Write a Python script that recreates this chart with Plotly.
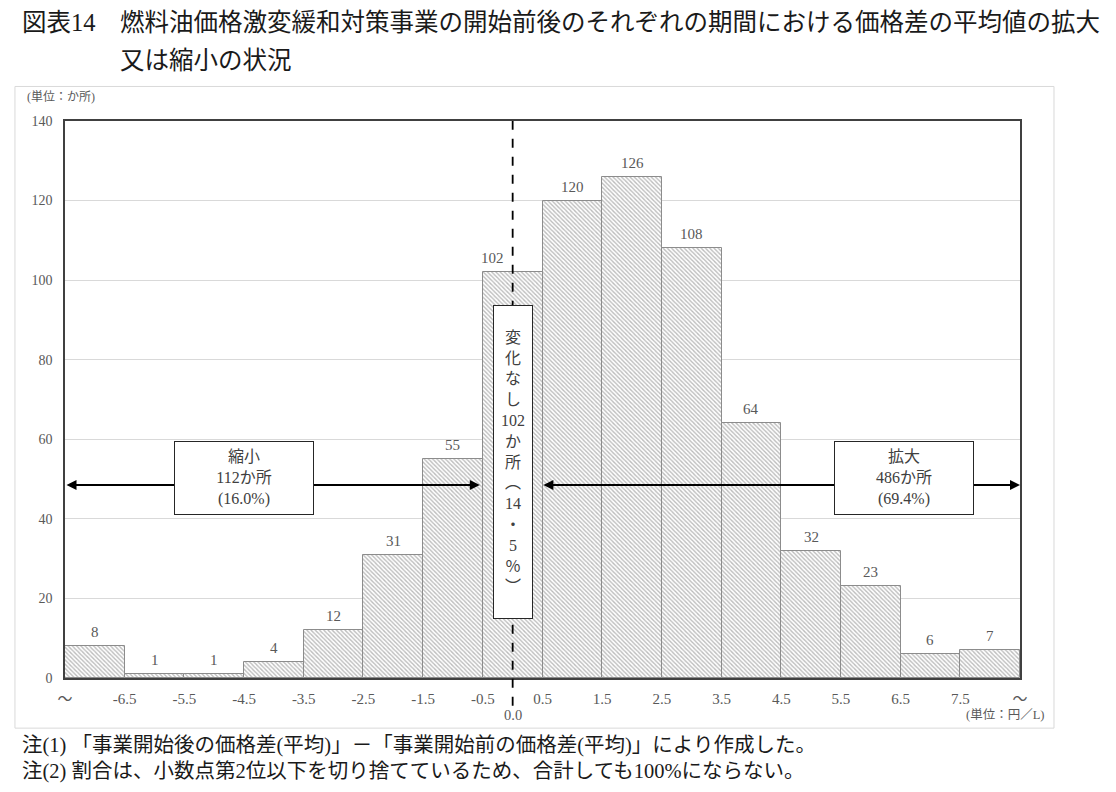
import plotly.graph_objects as go

# 価格差の平均値の変化（円/L）ごとの箇所数
bin_centers = [-7, -6, -5, -4, -3, -2, -1, 0, 1, 2, 3, 4, 5, 6, 7, 8]
counts = [8, 1, 1, 4, 12, 31, 55, 102, 120, 126, 108, 64, 32, 23, 6, 7]

tick_positions = [-7.5, -6.5, -5.5, -4.5, -3.5, -2.5, -1.5, -0.5, 0.5,
                  1.5, 2.5, 3.5, 4.5, 5.5, 6.5, 7.5, 8.5]
tick_labels = ["～", "-6.5", "-5.5", "-4.5", "-3.5", "-2.5", "-1.5", "-0.5", "0.5",
               "1.5", "2.5", "3.5", "4.5", "5.5", "6.5", "7.5", "～"]

shrink_text = "縮小<br>112か所<br>(16.0%)"
expand_text = "拡大<br>486か所<br>(69.4%)"
nochange_chars = ["変", "化", "な", "し", "102", "か", "所", "︵", "14", "・", "5", "％", "︶"]

title_head = "図表14"
title_line1 = "燃料油価格激変緩和対策事業の開始前後のそれぞれの期間における価格差の平均値の拡大"
title_line2 = "又は縮小の状況"
note1 = "注(1) 「事業開始後の価格差(平均)」－「事業開始前の価格差(平均)」により作成した。"
note2 = "注(2) 割合は、小数点第2位以下を切り捨てているため、合計しても100%にならない。"

FONT = "Liberation Serif, Noto Sans CJK JP"
GREY = "#595959"

fig = go.Figure()
fig.add_trace(
    go.Bar(
        x=bin_centers,
        y=counts,
        width=1,
        marker={
            "color": "white",
            "line": {"color": "#8c8c8c", "width": 1},
            "pattern": {
                "shape": "\\",
                "fgcolor": "#7a7a7a",
                "bgcolor": "white",
                "size": 3,
                "solidity": 0.45,
            },
        },
        hoverinfo="skip",
        showlegend=False,
    )
)

annotations = []
for x, v in zip(bin_centers, counts):
    annotations.append(
        dict(
            x=x, y=v, text=str(v), showarrow=False, yanchor="bottom", yshift=4,
            xshift=-20 if x == 0 else 0,
            font={"family": FONT, "size": 15, "color": GREY},
        )
    )

# arrows (縮小 / 拡大)
arrow_style = dict(
    text="", showarrow=True, arrowhead=2, startarrowhead=2, arrowside="end+start",
    arrowsize=1, arrowwidth=2, arrowcolor="black", axref="x", ayref="y",
    standoff=0, startstandoff=0,
)
annotations.append(dict(x=-0.55, y=48.5, ax=-7.5, ay=48.5, **arrow_style))
annotations.append(dict(x=8.5, y=48.5, ax=0.49, ay=48.5, **arrow_style))

box_style = dict(
    showarrow=False, bgcolor="white", bordercolor="#262626", borderwidth=1,
    borderpad=3, font={"family": FONT, "size": 16, "color": "#404040"},
)
annotations.append(dict(x=-4.5, y=50.2, text=shrink_text, width=132, height=66, **box_style))
annotations.append(dict(x=6.55, y=50.2, text=expand_text, width=132, height=66, **box_style))
annotations.append(
    dict(x=0, y=54.3, text="<br>".join(nochange_chars), width=32, height=306, **box_style)
)

# texts outside the plot
annotations += [
    dict(xref="paper", yref="paper", x=-0.0471, y=1.1777, text=title_head,
         xanchor="left", yanchor="middle", showarrow=False,
         font={"family": FONT, "size": 24.5, "color": "#1a1a1a"}),
    dict(xref="paper", yref="paper", x=0.0555, y=1.1777, text=title_line1,
         xanchor="left", yanchor="middle", showarrow=False,
         font={"family": FONT, "size": 24.5, "color": "#1a1a1a"}),
    dict(xref="paper", yref="paper", x=0.0555, y=1.1095, text=title_line2,
         xanchor="left", yanchor="middle", showarrow=False,
         font={"family": FONT, "size": 24.5, "color": "#1a1a1a"}),
    dict(xref="paper", yref="paper", x=-0.0419, y=1.043, text="(単位：か所)",
         xanchor="left", yanchor="middle", showarrow=False,
         font={"family": FONT, "size": 12, "color": GREY}),
    dict(xref="paper", yref="paper", x=1.027, y=-0.0664, text="(単位：円／L)",
         xanchor="right", yanchor="middle", showarrow=False,
         font={"family": FONT, "size": 12.5, "color": GREY}),
    dict(xref="x", yref="paper", x=0, y=-0.0664, text="0.0",
         xanchor="center", yanchor="middle", showarrow=False,
         font={"family": FONT, "size": 14.5, "color": GREY}),
    dict(xref="paper", yref="paper", x=-0.0471, y=-0.1203, text=note1,
         xanchor="left", yanchor="middle", showarrow=False,
         font={"family": FONT, "size": 20.5, "color": "#1a1a1a"}),
    dict(xref="paper", yref="paper", x=-0.0471, y=-0.167, text=note2,
         xanchor="left", yanchor="middle", showarrow=False,
         font={"family": FONT, "size": 20.5, "color": "#1a1a1a"}),
]

shapes = [
    # light frame round the whole chart
    dict(type="rect", xref="paper", yref="paper", x0=-0.0524, x1=1.0356,
         y0=-0.09, y1=1.062, line={"color": "#d9d9d9", "width": 1}, layer="below"),
    # 0.0 dashed line
    dict(type="line", xref="x", yref="paper", x0=0, x1=0, y0=-0.05, y1=1,
         line={"color": "black", "width": 1.8, "dash": "dash"}),
]

# page body has an 8px margin, so the figure is a little smaller than the window
fig.update_layout(
    width=1108,
    height=784,
    margin={"l": 57, "r": 96, "t": 113, "b": 114},
    paper_bgcolor="white",
    plot_bgcolor="white",
    bargap=0,
    annotations=annotations,
    shapes=shapes,
    font={"family": FONT, "color": GREY},
)
fig.update_xaxes(
    range=[-7.5, 8.5],
    tickmode="array",
    tickvals=tick_positions,
    ticktext=tick_labels,
    ticks="",
    ticklabelstandoff=6,
    tickfont={"family": FONT, "size": 15, "color": GREY},
    showgrid=False,
    zeroline=False,
    showline=True,
    mirror=True,
    linecolor="#404040",
    linewidth=1.5,
)
fig.update_yaxes(
    range=[0, 140],
    dtick=20,
    ticks="",
    ticklabelstandoff=8,
    tickfont={"family": FONT, "size": 14, "color": GREY},
    showgrid=True,
    gridcolor="#d9d9d9",
    gridwidth=1,
    zeroline=False,
    showline=True,
    mirror=True,
    linecolor="#404040",
    linewidth=1.5,
)

fig.write_html("out.html")
